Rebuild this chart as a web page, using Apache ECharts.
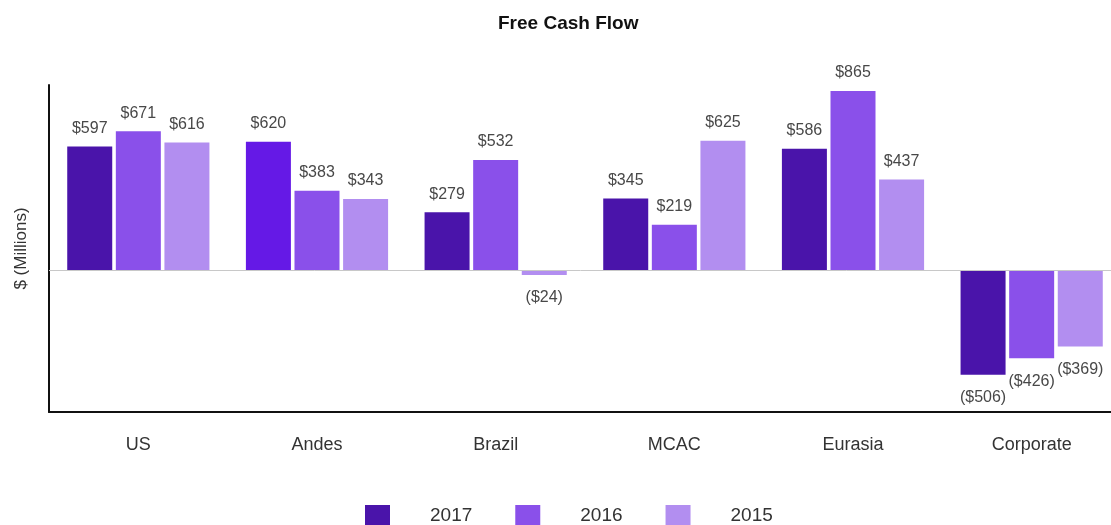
<!DOCTYPE html>
<html>
<head>
<meta charset="utf-8">
<script src="https://cdn.jsdelivr.net/npm/echarts@6/dist/echarts.min.js"></script>
<style>
  html, body { margin: 0; padding: 0; background: #fff; }
  #main { width: 1111px; height: 525px; }
</style>
</head>
<body>
<div id="main"></div>
<script>
var regions = ['US', 'Andes', 'Brazil', 'MCAC', 'Eurasia', 'Corporate'];
var years = ['2017', '2016', '2015'];
var fcf2017 = [597, 620, 279, 345, 586, -506];
var fcf2016 = [671, 383, 532, 219, 865, -426];
var fcf2015 = [616, 343, -24, 625, 437, -369];

var colors = ['#4a14aa', '#8a50ea', '#b28ef0'];
var FONT = "'Liberation Sans', Arial, sans-serif";

function money(v) {
    return v < 0 ? '($' + Math.abs(v) + ')' : '$' + v;
}

// 2017 bar for Andes is drawn in a brighter violet in the original
function buildData(values, idx) {
    return values.map(function (v, i) {
        var item = {
            value: v,
            label: v < 0 ? { position: 'bottom', distance: 15 } : { position: 'top', distance: 10 }
        };
        if (idx === 0 && regions[i] === 'Andes') {
            item.itemStyle = { color: '#6519e6' };
        }
        return item;
    });
}

var chart = echarts.init(document.getElementById('main'));
var seriesValues = [fcf2017, fcf2016, fcf2015];

var series = seriesValues.map(function (vals, idx) {
    var s = {
        name: years[idx],
        type: 'bar',
        data: buildData(vals, idx),
        barWidth: 45,
        barGap: '8%',
        itemStyle: { color: colors[idx] },
        label: {
            show: true,
            color: '#484848',
            fontSize: 16,
            fontFamily: FONT,
            formatter: function (p) { return money(p.value); }
        }
    };
    if (idx === 0) {
        s.markLine = {
            silent: true,
            symbol: 'none',
            label: { show: false },
            lineStyle: { color: '#c8c8c8', type: 'solid', width: 1 },
            data: [{ yAxis: 0 }]
        };
    }
    return s;
});

var option = {
    animation: false,
    backgroundColor: '#fff',
    title: {
        text: 'Free Cash Flow',
        left: 493,
        top: 9,
        textStyle: { fontSize: 19, fontWeight: 'bold', color: '#111', fontFamily: FONT }
    },
    legend: {
        data: years,
        left: 360,
        top: 500,
        itemWidth: 25,
        itemHeight: 22,
        itemGap: 43,
        icon: 'rect',
        textStyle: { fontSize: 19, color: '#333', fontFamily: FONT, padding: [0, 0, 0, 35] }
    },
    grid: {
        left: 49,
        top: 85,
        width: 1072,
        height: 327,
        outerBoundsMode: 'none'
    },
    xAxis: {
        type: 'category',
        data: regions,
        axisLine: { onZero: false, lineStyle: { color: '#111', width: 2 } },
        axisTick: { show: false },
        axisLabel: { margin: 24, fontSize: 18, color: '#333', fontFamily: FONT }
    },
    yAxis: {
        type: 'value',
        min: -686,
        max: 894,
        name: '$ (Millions)',
        nameLocation: 'middle',
        nameGap: 19,
        nameTextStyle: { fontSize: 17, color: '#333', fontFamily: FONT },
        axisLine: { show: true, lineStyle: { color: '#111', width: 2 } },
        axisTick: { show: false },
        axisLabel: { show: false },
        splitLine: { show: false }
    },
    series: series
};

chart.setOption(option);
window.addEventListener('resize', function () {
    chart.resize();
});
</script>
</body>
</html>
